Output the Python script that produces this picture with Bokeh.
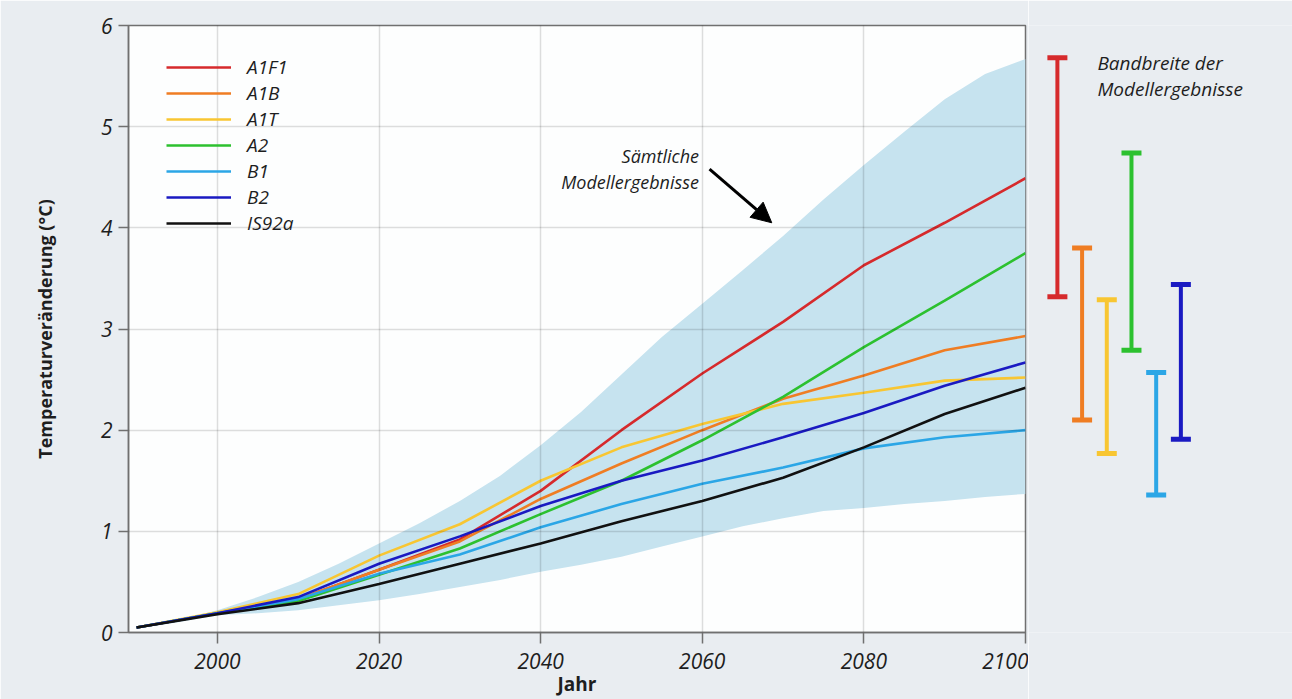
from bokeh.plotting import figure
from bokeh.layouts import row
from bokeh.models import Range1d, FixedTicker, Arrow, NormalHead, ColumnDataSource
from bokeh.embed import file_html
from bokeh.resources import INLINE
from bokeh.core.properties import value

# ---------------- data ----------------
years = [1990, 2000, 2010, 2020, 2030, 2040, 2050, 2060, 2070, 2080, 2090, 2100]
A1F1 = [0.05, 0.19, 0.33, 0.62, 0.92, 1.40, 2.00, 2.56, 3.07, 3.63, 4.05, 4.49]
A1B = [0.05, 0.19, 0.33, 0.62, 0.90, 1.32, 1.67, 2.00, 2.31, 2.54, 2.79, 2.93]
A1T = [0.05, 0.20, 0.38, 0.76, 1.07, 1.50, 1.83, 2.06, 2.26, 2.37, 2.49, 2.52]
A2 = [0.05, 0.19, 0.31, 0.57, 0.83, 1.17, 1.50, 1.90, 2.33, 2.82, 3.28, 3.75]
B1 = [0.05, 0.19, 0.33, 0.58, 0.77, 1.04, 1.27, 1.47, 1.63, 1.82, 1.93, 2.00]
B2 = [0.05, 0.19, 0.35, 0.68, 0.95, 1.25, 1.50, 1.70, 1.93, 2.17, 2.44, 2.67]
IS92a = [0.05, 0.18, 0.29, 0.48, 0.68, 0.88, 1.10, 1.30, 1.53, 1.83, 2.16, 2.42]

series_names = ["A1F1", "A1B", "A1T", "A2", "B1", "B2", "IS92a"]
series_values = [A1F1, A1B, A1T, A2, B1, B2, IS92a]
series_colors = ["#d62a2c", "#ef7d23", "#f8c632", "#2cc12f", "#2ba6e6", "#1a1ac2", "#111111"]

band_years = [1990, 1995, 2000, 2005, 2010, 2015, 2020, 2025, 2030, 2035, 2040, 2045,
              2050, 2055, 2060, 2065, 2070, 2075, 2080, 2085, 2090, 2095, 2100]
band_upper = [0.05, 0.12, 0.22, 0.35, 0.50, 0.68, 0.88, 1.08, 1.30, 1.55, 1.85, 2.18,
              2.55, 2.92, 3.25, 3.58, 3.92, 4.28, 4.62, 4.95, 5.27, 5.52, 5.67]
band_lower = [0.04, 0.10, 0.17, 0.19, 0.22, 0.27, 0.32, 0.38, 0.45, 0.52, 0.60, 0.67,
              0.75, 0.85, 0.95, 1.05, 1.13, 1.20, 1.23, 1.27, 1.30, 1.34, 1.37]

range_names = ["A1F1", "A1B", "A1T", "A2", "B1", "B2"]
range_low = [3.32, 2.10, 1.77, 2.79, 1.36, 1.91]
range_high = [5.68, 3.80, 3.29, 4.74, 2.57, 3.44]
range_colors = ["#d62a2c", "#ef7d23", "#f8c632", "#2cc12f", "#2ba6e6", "#1a1ac2"]

x_ticks = [2000, 2020, 2040, 2060, 2080, 2100]
y_ticks = [0, 1, 2, 3, 4, 5, 6]

# ---------------- style ----------------
BG = "#e9edf1"
FONT = "Open Sans"
TXT = "#1e1e1e"
AX = "#707070"
H = 699
TOP = 25
BOTTOM = 67

yr = Range1d(0, 6)
p = figure(width=1028, height=H, x_range=Range1d(1989, 2100), y_range=yr,
           output_backend="svg", toolbar_location=None,
           min_border_left=128, min_border_right=3, min_border_top=TOP, min_border_bottom=BOTTOM)
p.background_fill_color = "#fdfefe"
p.border_fill_color = BG
p.outline_line_color = AX
p.outline_line_width = 1.5

# band
p.varea(x=band_years, y1=band_lower, y2=band_upper, fill_color="#c6e3ef")

# lines
for name, vals, col in zip(series_names, series_values, series_colors):
    p.line(years, vals, line_color=col, line_width=2.6, legend_label=name)

# grid
p.xgrid.ticker = FixedTicker(ticks=x_ticks)
p.ygrid.ticker = FixedTicker(ticks=y_ticks)
p.grid.grid_line_color = "black"
p.grid.grid_line_alpha = 0.13
p.grid.grid_line_width = 1.5
p.grid.level = "guide"

# axes
p.xaxis.ticker = FixedTicker(ticks=x_ticks)
p.yaxis.ticker = FixedTicker(ticks=y_ticks)
for ax in (p.xaxis[0], p.yaxis[0]):
    ax.axis_line_color = AX
    ax.axis_line_width = 1.5
    ax.major_tick_line_color = AX
    ax.major_tick_line_width = 1.5
    ax.major_tick_in = 0
    ax.minor_tick_line_color = None
    ax.major_label_text_font = FONT
    ax.major_label_text_font_style = "italic"
    ax.major_label_text_font_size = "21px"
    ax.major_label_text_color = TXT
p.xaxis.major_tick_out = 11
p.xaxis.major_label_standoff = 9
p.xaxis.axis_label = "Jahr"
p.xaxis.axis_label_text_font = FONT
p.xaxis.axis_label_text_font_style = "bold"
p.xaxis.axis_label_text_font_size = "19px"
p.xaxis.axis_label_text_color = TXT
p.xaxis.axis_label_standoff = -1
p.yaxis.major_tick_out = 10
p.yaxis.major_label_standoff = 6
p.yaxis.axis_label = "Temperaturveränderung (°C)"
p.yaxis.axis_label_text_font = FONT
p.yaxis.axis_label_text_font_style = "bold"
p.yaxis.axis_label_text_font_size = "18px"
p.yaxis.axis_label_text_color = TXT
p.yaxis.axis_label_standoff = 41

# annotation
p.text(x=[2059.6, 2059.6], y=[4.71, 4.45], text=["Sämtliche", "Modellergebnisse"],
       text_align="right", text_baseline="middle", text_font=value(FONT),
       text_font_style="italic", text_font_size="18px", text_color=TXT)
p.add_layout(Arrow(end=NormalHead(size=20, fill_color="black", line_color="black"),
                   x_start=2060.9, y_start=4.58, x_end=2068.6, y_end=4.05,
                   line_width=3, line_color="black"))

# legend
lg = p.legend[0]
lg.location = (38, 396)
lg.glyph_width = 65
lg.glyph_height = 20
lg.label_standoff = 16
lg.spacing = 0
lg.padding = 0
lg.margin = 0
lg.background_fill_alpha = 0
lg.border_line_alpha = 0
lg.label_text_font = FONT
lg.label_text_font_style = "italic"
lg.label_text_font_size = "19px"
lg.label_text_color = TXT

# ---------------- right panel: ranges ----------------
p2 = figure(width=264, height=H, x_range=Range1d(-1.17, 9.52), y_range=yr,
            output_backend="svg", toolbar_location=None,
            x_axis_type=None, y_axis_type=None,
            min_border_left=0, min_border_right=0, min_border_top=TOP, min_border_bottom=BOTTOM)
p2.background_fill_color = BG
p2.border_fill_color = BG
p2.outline_line_color = None
p2.grid.visible = False

src = ColumnDataSource(dict(x=list(range(len(range_names))), lo=range_low, hi=range_high,
                            c=range_colors, name=range_names))
p2.segment(x0="x", y0="lo", x1="x", y1="hi", line_color="c", line_width=4, source=src)
p2.rect(x="x", y="hi", width=20, height=5, width_units="screen", height_units="screen",
        fill_color="c", line_color=None, source=src)
p2.rect(x="x", y="lo", width=20, height=5, width_units="screen", height_units="screen",
        fill_color="c", line_color=None, source=src)
p2.text(x=[1.62, 1.62], y=[5.63, 5.37], text=["Bandbreite der", "Modellergebnisse"],
        text_align="left", text_baseline="middle", text_font=value(FONT),
        text_font_style="italic", text_font_size="19px", text_color=TXT)

layout = row(p, p2)
open("out.html", "w").write(file_html(layout, INLINE))
